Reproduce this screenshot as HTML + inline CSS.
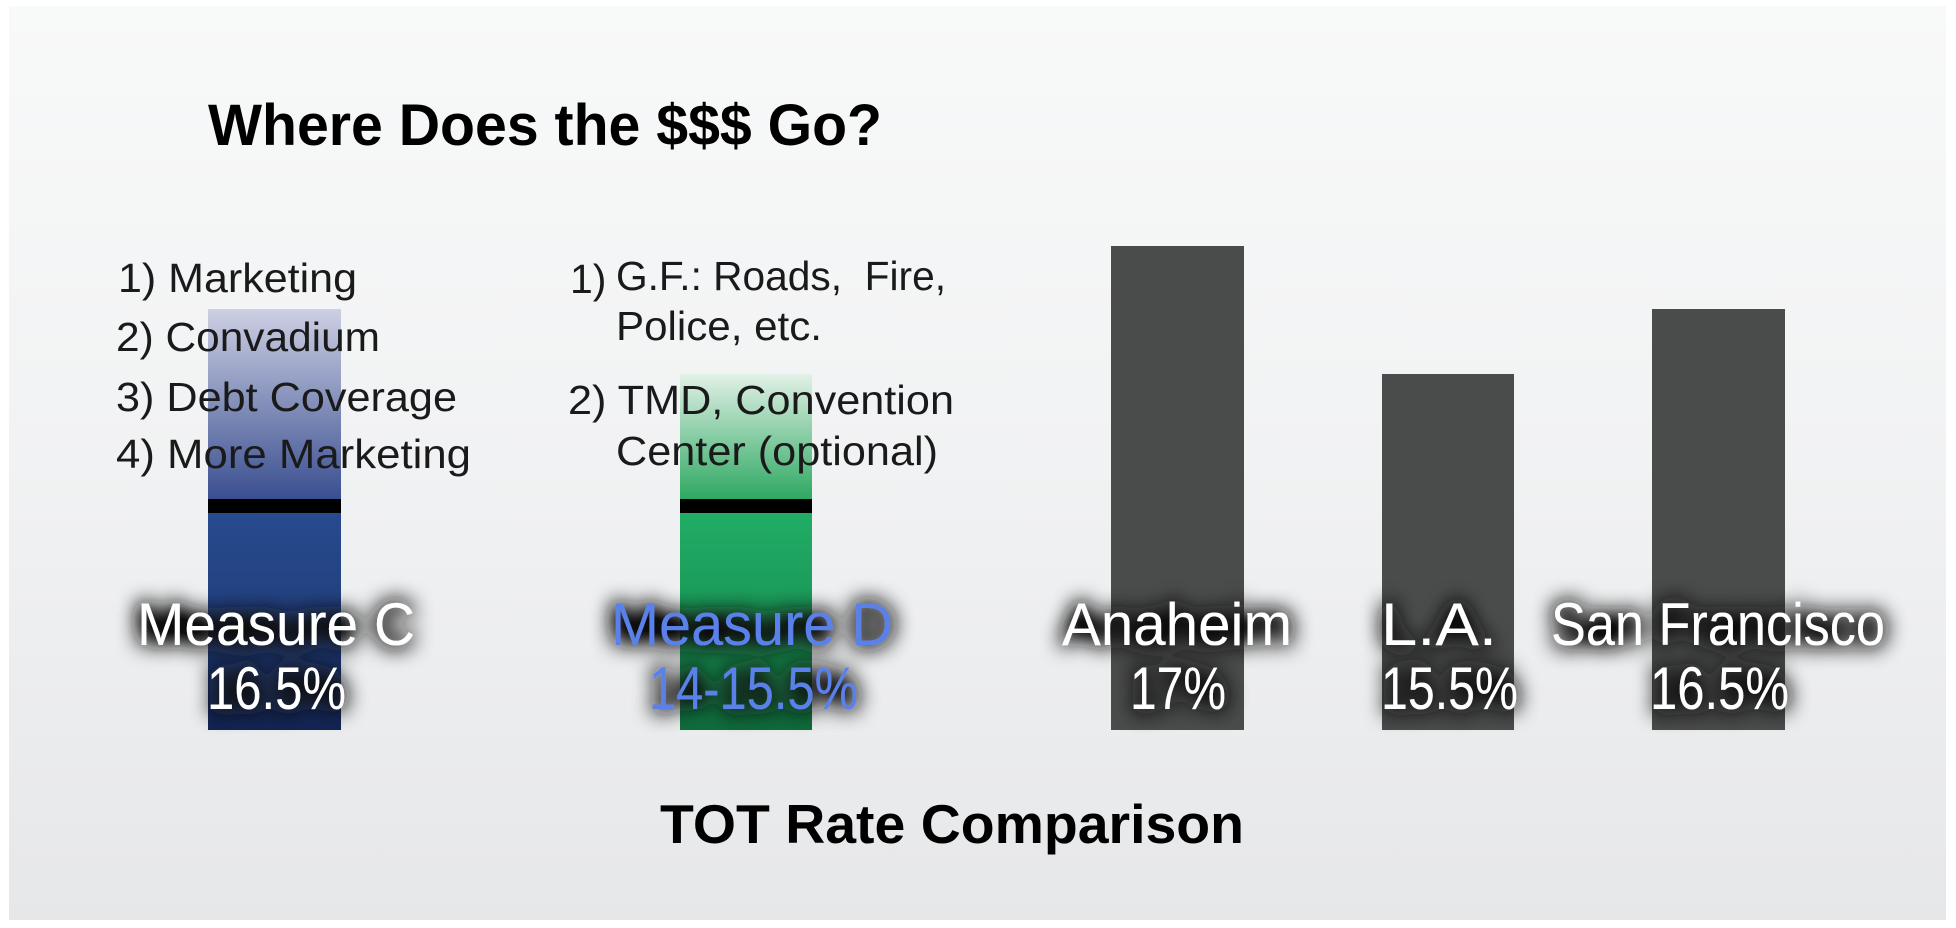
<!DOCTYPE html>
<html><head><meta charset="utf-8"><style>
html,body{margin:0;padding:0;background:#fff;}
svg{display:block;}
text{font-family:"Liberation Sans",sans-serif;}
</style></head><body>
<svg width="1956" height="928" viewBox="0 0 1956 928" xmlns="http://www.w3.org/2000/svg">
<defs>
<linearGradient id="bg" x1="0" y1="0" x2="0" y2="1">
<stop offset="0" stop-color="#f8f9f9"/><stop offset="0.5" stop-color="#f1f2f3"/><stop offset="1" stop-color="#e6e7e9"/>
</linearGradient>
<linearGradient id="cTop" x1="0" y1="0" x2="0" y2="1">
<stop offset="0" stop-color="#cdd0e4"/><stop offset="1" stop-color="#3a4f90"/>
</linearGradient>
<linearGradient id="cBot" x1="0" y1="0" x2="0" y2="1">
<stop offset="0" stop-color="#264b8e"/><stop offset="0.5" stop-color="#223f7e"/><stop offset="1" stop-color="#132453"/>
</linearGradient>
<linearGradient id="dTop" x1="0" y1="0" x2="0" y2="1">
<stop offset="0" stop-color="#e1f1e6"/><stop offset="1" stop-color="#2ea862"/>
</linearGradient>
<linearGradient id="dBot" x1="0" y1="0" x2="0" y2="1">
<stop offset="0" stop-color="#21ad66"/><stop offset="0.5" stop-color="#1a9656"/><stop offset="1" stop-color="#0f6b3b"/>
</linearGradient>
<filter id="glow" x="-20%" y="-50%" width="140%" height="200%">
<feGaussianBlur in="SourceAlpha" stdDeviation="11" result="b"/>
<feComponentTransfer in="b" result="b2"><feFuncA type="linear" slope="2.8"/></feComponentTransfer>
<feFlood flood-color="#111"/>
<feComposite in2="b2" operator="in" result="s"/>
<feMerge><feMergeNode in="s"/><feMergeNode in="SourceGraphic"/></feMerge>
</filter>
</defs>
<rect x="0" y="0" width="1956" height="928" fill="#fff"/>
<rect x="9" y="6" width="1937" height="914" fill="url(#bg)"/>

<text x="208" y="145" font-size="58" font-weight="bold" fill="#000" textLength="674" lengthAdjust="spacingAndGlyphs">Where Does the $$$ Go?</text>

<rect x="208" y="309" width="133" height="190" fill="url(#cTop)"/>
<rect x="208" y="499" width="133" height="14" fill="#000"/>
<rect x="208" y="513" width="133" height="217" fill="url(#cBot)"/>
<rect x="680" y="374" width="132" height="125" fill="url(#dTop)"/>
<rect x="680" y="499" width="132" height="14" fill="#000"/>
<rect x="680" y="513" width="132" height="217" fill="url(#dBot)"/>
<rect x="1111" y="246" width="133" height="484" fill="#4a4b4b"/>
<rect x="1382" y="374" width="132" height="356" fill="#4a4b4b"/>
<rect x="1652" y="309" width="133" height="421" fill="#4a4b4b"/>

<g font-size="41" fill="#1a1a1a">
<text x="118" y="292" textLength="239" lengthAdjust="spacingAndGlyphs">1) Marketing</text>
<text x="116" y="351" textLength="264" lengthAdjust="spacingAndGlyphs">2) Convadium</text>
<text x="116" y="411" textLength="341" lengthAdjust="spacingAndGlyphs">3) Debt Coverage</text>
<text x="116" y="468" textLength="355" lengthAdjust="spacingAndGlyphs">4) More Marketing</text>
<text x="570" y="293">1)</text>
<text x="616" y="290" textLength="330" lengthAdjust="spacingAndGlyphs">G.F.: Roads,&#160; Fire,</text>
<text x="616" y="340" textLength="206" lengthAdjust="spacingAndGlyphs">Police, etc.</text>
<text x="568" y="414" textLength="386" lengthAdjust="spacingAndGlyphs">2) TMD, Convention</text>
<text x="616" y="465" textLength="322" lengthAdjust="spacingAndGlyphs">Center (optional)</text>
</g>

<g font-size="60" fill="#fff" filter="url(#glow)">
<text x="137" y="645" textLength="278" lengthAdjust="spacingAndGlyphs">Measure C</text>
<text x="207" y="709" textLength="139" lengthAdjust="spacingAndGlyphs">16.5%</text>
<text x="611" y="645" textLength="282" lengthAdjust="spacingAndGlyphs" fill="#5a80ea">Measure D</text>
<text x="649" y="709" textLength="209" lengthAdjust="spacingAndGlyphs" fill="#5a80ea">14-15.5%</text>
<text x="1062" y="645" textLength="230" lengthAdjust="spacingAndGlyphs">Anaheim</text>
<text x="1130" y="709" textLength="96" lengthAdjust="spacingAndGlyphs">17%</text>
<text x="1381" y="645" textLength="116" lengthAdjust="spacingAndGlyphs">L.A.</text>
<text x="1381" y="709" textLength="137" lengthAdjust="spacingAndGlyphs">15.5%</text>
<text x="1551" y="645" textLength="334" lengthAdjust="spacingAndGlyphs">San Francisco</text>
<text x="1650" y="709" textLength="139" lengthAdjust="spacingAndGlyphs">16.5%</text>
</g>

<text x="660" y="843" font-size="55" font-weight="bold" fill="#000" textLength="584" lengthAdjust="spacingAndGlyphs">TOT Rate Comparison</text>
</svg>
</body></html>
